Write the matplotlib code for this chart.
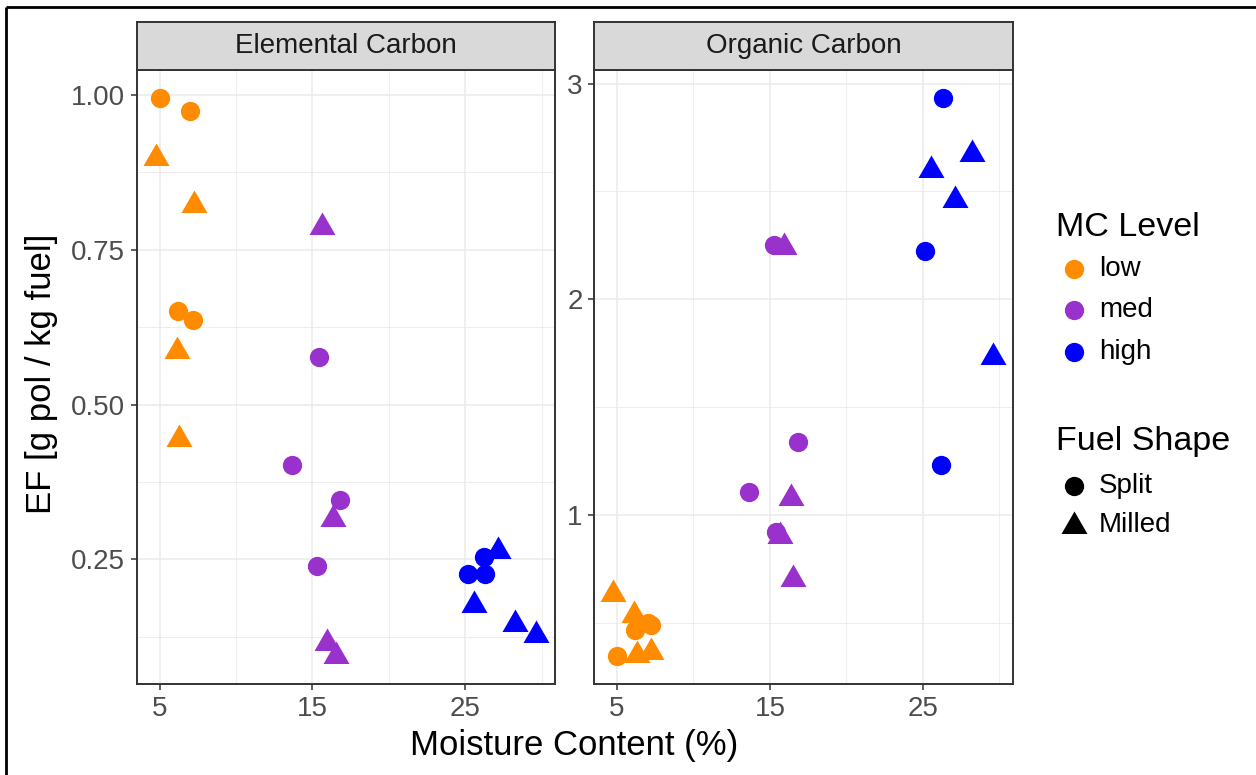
import numpy as np
import matplotlib
matplotlib.use('Agg')
from matplotlib import pyplot as plt
from matplotlib.path import Path
from matplotlib.ticker import FixedLocator

plt.rcParams['font.family'] = ['Liberation Sans', 'DejaVu Sans']

W, H = 1256, 775

# moisture content (%) and emission factors [g pol / kg fuel]
mc = [5.0, 7.0, 6.2, 7.2, 4.75, 7.25, 6.14, 6.3,
      15.4, 13.65, 16.82, 15.27, 15.65, 16.35, 15.95, 16.52,
      26.2, 25.17, 26.29, 27.12, 25.54, 28.23, 29.62]
ec = [0.995, 0.974, 0.651, 0.637, 0.898, 0.822, 0.586, 0.445,
      0.577, 0.403, 0.346, 0.239, 0.787, 0.315, 0.115, 0.094,
      0.254, 0.226, 0.227, 0.263, 0.177, 0.146, 0.128]
oc = [0.345, 0.50, 0.464, 0.49, 0.631, 0.364, 0.534, 0.35,
      0.92, 1.108, 1.339, 2.25, 0.903, 1.077, 2.244, 0.702,
      1.231, 2.224, 2.934, 2.46, 2.60, 2.674, 1.731]
level = ['low'] * 8 + ['med'] * 8 + ['high'] * 7
shape = (['Split'] * 4 + ['Milled'] * 4) * 2 + ['Split'] * 3 + ['Milled'] * 4

levels = ['low', 'med', 'high']
level_cols = {'low': '#FF8C00', 'med': '#9932CC', 'high': '#0000FF'}
shapes = ['Split', 'Milled']

# filled triangle centred on its centroid, like R's pch 17
tri = Path([(0, 1.555), (1.347, -0.778), (-1.347, -0.778), (0, 1.555)],
           [Path.MOVETO, Path.LINETO, Path.LINETO, Path.CLOSEPOLY])
circ_ms = 13.9
tri_ms = 3.11 * circ_ms / 2
markers = {'Split': ('o', circ_ms), 'Milled': (tri, tri_ms)}

fig = plt.figure(figsize=(W / 100, H / 100), dpi=100)


def box(x0, y0, x1, y1):
    return [x0 / W, 1 - y1 / H, (x1 - x0) / W, (y1 - y0) / H]


# background frame lines
bg = fig.add_axes([0, 0, 1, 1], zorder=-5)
bg.set_xlim(0, W)
bg.set_ylim(H, 0)
bg.axis('off')
bg.plot([6, W], [7, 7], color='black', lw=2, solid_capstyle='butt')
bg.plot([6, 6], [7, H], color='black', lw=2, solid_capstyle='butt')

panels = [
    ('Elemental Carbon', ec, 136.7, 555.0,
     [0.25, 0.50, 0.75, 1.00], ['0.25', '0.50', '0.75', '1.00'],
     [0.125, 0.375, 0.625, 0.875]),
    ('Organic Carbon', oc, 594.2, 1012.5,
     [1, 2, 3], ['1', '2', '3'], [0.5, 1.5, 2.5]),
]
top, bottom, strip_top = 70, 684, 22

mc = np.array(mc)
for title, vals, x0, x1, yt, ytl, ymin in panels:
    vals = np.array(vals)
    ax = fig.add_axes(box(x0, top, x1, bottom))
    for lv in levels:
        for sh in shapes:
            sel = np.array([(l == lv and s == sh) for l, s in zip(level, shape)])
            m, ms = markers[sh]
            ax.plot(mc[sel], vals[sel], ls='none', marker=m, ms=ms,
                    color=level_cols[lv], mec='none', zorder=3)
    ax.margins(x=0.05, y=0.05)
    ax.set_xticks([5, 15, 25])
    ax.xaxis.set_minor_locator(FixedLocator([10, 20, 30]))
    ax.set_yticks(yt)
    ax.set_yticklabels(ytl)
    ax.yaxis.set_minor_locator(FixedLocator(ymin))
    ax.set_axisbelow(True)
    ax.grid(which='major', color='#EBEBEB', lw=1.15)
    ax.grid(which='minor', color='#EBEBEB', lw=0.6)
    ax.tick_params(which='major', length=4.3, width=1.1, color='#333333',
                   labelsize=20, labelcolor='#4D4D4D', pad=4)
    ax.tick_params(which='minor', length=0)
    for sp in ax.spines.values():
        sp.set_color('#333333')
        sp.set_linewidth(1.4)

    # facet strip
    st = fig.add_axes(box(x0, strip_top, x1, top))
    st.set_facecolor('#D9D9D9')
    st.set_xticks([])
    st.set_yticks([])
    for sp in st.spines.values():
        sp.set_color('#333333')
        sp.set_linewidth(1.4)
    st.text(0.5, 0.5, title, transform=st.transAxes, ha='center',
            va='center', fontsize=20, color='#1A1A1A')

fig.text(574.6 / W, 1 - 745 / H, 'Moisture Content (%)', ha='center',
         va='center', fontsize=25)
fig.text(42 / W, 1 - 374 / H, 'EF [g pol / kg fuel]', ha='center',
         va='center', rotation=90, fontsize=25)

# legends
key_x, text_x = 1074, 1099
fig.text(1056 / W, 1 - 228 / H, 'MC Level', ha='left', va='center',
         fontsize=24.5)
for i, lv in enumerate(levels):
    yy = 268.5 + i * 41.6
    bg.plot([key_x], [yy], ls='none', marker='o', ms=circ_ms,
            color=level_cols[lv], mec='none')
    fig.text(text_x / W, 1 - yy / H, lv, ha='left', va='center', fontsize=20)

fig.text(1056 / W, 1 - 441 / H, 'Fuel Shape', ha='left', va='center',
         fontsize=24.5)
for i, sh in enumerate(shapes):
    yy = 486 + i * 39.5
    m, ms = markers[sh]
    bg.plot([key_x], [yy], ls='none', marker=m, ms=ms, color='black',
            mec='none')
    fig.text(text_x / W, 1 - yy / H, sh, ha='left', va='center', fontsize=20)

fig.savefig('out.png', dpi=100)
